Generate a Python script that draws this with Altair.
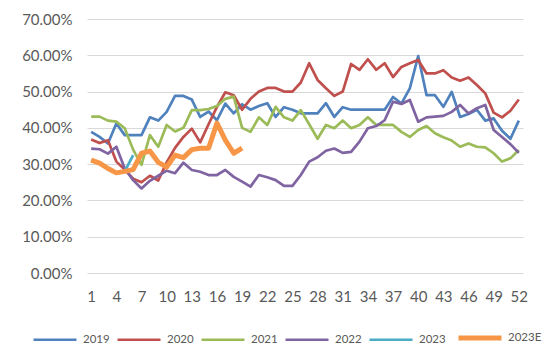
import altair as alt
import pandas as pd

weeks = list(range(1, 53))

s2019 = [38.9, 37.5, 35.7, 41.2, 38.0, 38.0, 38.0, 42.9, 42.0, 44.4,
         48.8, 48.8, 47.8, 43.0, 44.5, 42.1, 46.7, 44.0, 46.5, 45.0,
         46.0, 46.8, 43.0, 45.7, 45.0, 44.0, 44.0, 44.0, 46.8, 43.0,
         45.7, 45.0, 45.0, 45.0, 45.0, 45.0, 48.5, 46.7, 50.9, 59.8,
         49.0, 49.0, 45.8, 49.9, 43.0, 43.8, 45.0, 42.0, 42.6, 39.2,
         37.0, 42.0]
s2020 = [36.8, 35.8, 36.6, 30.7, 28.5, 26.0, 25.0, 26.8, 25.5, 30.5,
         34.5, 37.5, 39.8, 36.0, 41.0, 45.8, 49.8, 49.0, 45.0, 48.0,
         50.0, 51.0, 51.0, 50.0, 50.0, 52.5, 57.8, 53.2, 50.9, 48.8,
         50.0, 57.6, 56.0, 58.9, 56.0, 57.8, 54.0, 56.8, 57.8, 58.7,
         55.0, 55.0, 55.9, 53.9, 53.0, 53.9, 51.8, 49.5, 44.2, 42.9,
         44.7, 47.8]
s2021 = [43.1, 43.1, 42.0, 41.7, 39.9, 34.0, 29.8, 38.0, 34.8, 40.8,
         39.0, 40.0, 44.9, 44.9, 45.2, 46.0, 48.0, 48.6, 40.0, 38.9,
         42.9, 40.8, 45.8, 42.9, 42.0, 44.9, 41.0, 37.0, 40.8, 39.9,
         42.0, 39.9, 40.8, 42.9, 40.8, 40.8, 40.8, 38.9, 37.5, 39.4,
         40.5, 38.5, 37.4, 36.5, 34.8, 35.7, 34.8, 34.6, 33.0, 30.7,
         31.6, 33.9]
s2022 = [34.3, 34.1, 32.9, 34.8, 28.8, 25.6, 23.3, 25.4, 26.8, 28.2,
         27.5, 30.4, 28.4, 27.9, 27.0, 27.0, 28.4, 26.5, 25.2, 23.8,
         27.0, 26.4, 25.6, 24.0, 24.0, 27.0, 30.7, 31.9, 33.7, 34.3,
         33.1, 33.4, 36.2, 39.9, 40.5, 42.1, 47.2, 46.6, 47.7, 41.7,
         42.9, 43.1, 43.3, 44.4, 46.3, 44.0, 45.4, 46.3, 39.4, 37.5,
         35.5, 33.1]
s2023 = [31.1, 30.3, 28.8, 27.6, 28.0, 32.5]
s2023e = [31.1, 30.3, 28.8, 27.6, 28.0, 28.5, 33.0, 33.6, 30.5, 29.2,
          32.5, 31.8, 34.0, 34.4, 34.4, 41.3, 36.6, 33.0, 34.4]

series_names = ["2019", "2020", "2021", "2022", "2023", "2023E"]
series_values = [s2019, s2020, s2021, s2022, s2023, s2023e]
colors = ["#4F81BD", "#C0504D", "#9BBB59", "#8064A2", "#4BACC6", "#F79646"]
widths = [2.7, 2.7, 2.7, 2.7, 2.7, 5.0]
x_ticks = list(range(1, 53, 3))
y_ticks = [0, 0.1, 0.2, 0.3, 0.4, 0.5, 0.6, 0.7]

rows = []
for order, (name, vals) in enumerate(zip(series_names, series_values)):
    for w, v in zip(weeks, vals):
        rows.append({"week": w, "value": v / 100.0, "series": name, "order": order})
df = pd.DataFrame(rows)

legend_cfg = dict(title=None, orient="none", direction="horizontal",
                  columns=6, legendX=-56, legendY=295,
                  symbolType="stroke", symbolSize=1849,
                  labelFontSize=11.5, labelFont="Lato",
                  labelColor="#595959", labelOffset=4,
                  columnPadding=2)

chart = alt.Chart(df).mark_line(strokeJoin="round", strokeCap="butt").encode(
    x=alt.X("week:Q",
            scale=alt.Scale(domain=[0.5, 52.5], nice=False, zero=False),
            axis=alt.Axis(values=x_ticks, title=None, grid=False, domain=False,
                          ticks=False, labelFontSize=15, labelPadding=16,
                          labelColor="#595959", labelFont="Lato")),
    y=alt.Y("value:Q",
            scale=alt.Scale(domain=[0, 0.7], nice=False),
            axis=alt.Axis(values=y_ticks, format=".2%", title=None, domain=False,
                          ticks=False, labelFontSize=15, labelPadding=15,
                          labelColor="#595959", labelFont="Lato",
                          gridColor="#D9D9D9", gridWidth=1)),
    color=alt.Color("series:N",
                    scale=alt.Scale(domain=series_names, range=colors),
                    legend=alt.Legend(**legend_cfg)),
    strokeWidth=alt.StrokeWidth("series:N",
                                scale=alt.Scale(type="ordinal", domain=series_names, range=widths),
                                legend=alt.Legend(**legend_cfg)),
    order=alt.Order("order:Q"),
    detail="series:N",
).properties(
    width=436,
    height=254,
    autosize=alt.AutoSizeParams(type="none"),
    padding={"left": 79, "top": 11, "right": 19, "bottom": 85},
).configure_view(stroke=None)

chart.save("out.html", embed_options={"renderer": "svg", "actions": False})
